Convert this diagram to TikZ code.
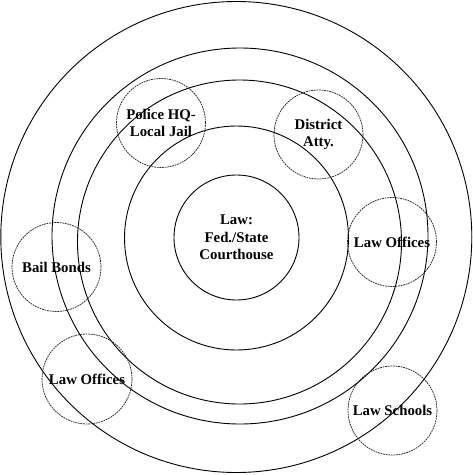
\documentclass[tikz,border=0pt]{standalone}
\usepackage{fontspec}
\setmainfont{Liberation Serif}
\begin{document}
\begin{tikzpicture}[x=1pt,y=-1pt,
  ring/.style={circle,draw=black,line width=0.9pt,inner sep=0pt,minimum size=#1},
  zone/.style={circle,draw=black!85,line width=0.75pt,dash pattern=on 1.8pt off 0.8pt,inner sep=0pt,minimum size=#1,
    align=center,font=\fontsize{14.8}{17.5}\selectfont\bfseries}]
\useasboundingbox (0,0) rectangle (473,475);
\node[ring=471pt] (r1) at (236.3,237) {};
\node[ring=376pt] (r2) at (240,236) {};
\node[ring=324pt] (r3) at (239.5,242) {};
\node[ring=224pt] (r4) at (236.5,238) {};
\node[ring=125pt,align=center,font=\fontsize{14.8}{17.5}\selectfont\bfseries] (core) at (236.5,237.5) {Law:\\Fed./State\\Courthouse};
\node[zone=89pt] (police) at (161,123) {Police HQ-\\Local Jail};
\node[zone=89pt] (da) at (318.5,134.5) {District\\Atty.};
\node[zone=89pt] (lor) at (392,242) {Law Offices};
\node[zone=89pt] (bail) at (56.5,267) {Bail Bonds};
\node[zone=90pt] (lol) at (87,379) {Law Offices};
\node[zone=89pt] (ls) at (392.5,410.5) {Law Schools};
\end{tikzpicture}
\end{document}
